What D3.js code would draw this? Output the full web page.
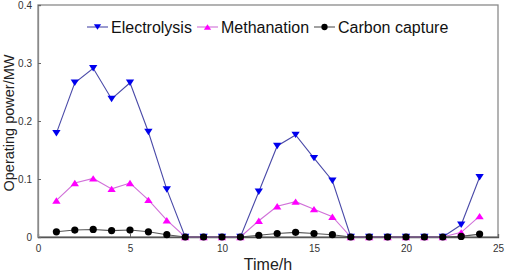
<!DOCTYPE html>
<html>
<head>
<meta charset="utf-8">
<script src="https://cdn.jsdelivr.net/npm/d3@7"></script>
<style>
  body { margin: 0; background: #fff; }
  text { font-family: "Liberation Sans", Arial, sans-serif; }
</style>
</head>
<body>
<svg width="505" height="273"></svg>
<script>
const hours = d3.range(1, 25)
const electrolysis = [0.179, 0.266, 0.291, 0.238, 0.266, 0.181, 0.082, 0, 0, 0, 0, 0.078,
    0.157, 0.176, 0.136, 0.097, 0, 0, 0, 0, 0, 0, 0.021, 0.103]
const methanation = [0.063, 0.093, 0.101, 0.083, 0.093, 0.064, 0.029, 0, 0, 0, 0, 0.028,
    0.053, 0.061, 0.048, 0.035, 0, 0, 0, 0, 0, 0, 0.008, 0.036]
const carbonCapture = [0.009, 0.012, 0.013, 0.011, 0.012, 0.009, 0.004, 0, 0, 0, 0, 0.003,
    0.006, 0.008, 0.006, 0.004, 0, 0, 0, 0, 0, 0, 0.001, 0.005]
const xTicks = [0, 5, 10, 15, 20, 25]
const yTicks = [0, 0.1, 0.2, 0.3, 0.4]

const series = [
    {name: "Electrolysis", values: electrolysis, line: "#4a4aa8", fill: "#0000ee", symbol: "down"},
    {name: "Methanation", values: methanation, line: "#d070d8", fill: "#ff00ff", symbol: "up"},
    {name: "Carbon capture", values: carbonCapture, line: "#555555", fill: "#000000", symbol: "circle"}
]

const margin = {left: 38, right: 7, top: 5, bottom: 36}
const width = 505 - margin.left - margin.right
const height = 273 - margin.top - margin.bottom

const svg = d3.select("svg")
const g = svg.append("g").attr("transform", `translate(${margin.left}, ${margin.top})`)

const x = d3.scaleLinear().domain([0, 25]).range([0, width])
const y = d3.scaleLinear().domain([0, 0.4]).range([height, 0])

// frame
g.append("rect")
    .attr("width", width).attr("height", height)
    .style("fill", "none").style("stroke", "#8a8a8a").style("stroke-width", 1.3)

const xAxis = g.append("g")
    .attr("transform", `translate(0, ${height})`)
    .call(d3.axisBottom(x).tickValues(xTicks).tickSize(-3).tickPadding(8).tickFormat(d3.format("d")))
const yAxis = g.append("g")
    .call(d3.axisLeft(y).tickValues(yTicks).tickSize(-3).tickPadding(6).tickFormat(d => d === 0 ? "0" : d3.format(".1f")(d)))

xAxis.select(".domain").style("stroke", "#555").style("stroke-width", 1.3)
yAxis.select(".domain").style("stroke", "#8a8a8a").style("stroke-width", 1.3)
svg.selectAll(".tick line").style("stroke", "#666")
svg.selectAll(".tick text").style("font-size", "10px").style("fill", "#333")

svg.append("text")
    .attr("transform", `translate(13.5, ${margin.top + height / 2 + 2}) rotate(-90)`)
    .style("text-anchor", "middle")
    .style("font-size", "14.5px")
    .style("fill", "#222")
    .text("Operating power/MW")

svg.append("text")
    .attr("x", margin.left + width / 2)
    .attr("y", 270)
    .style("text-anchor", "middle")
    .style("font-size", "16px")
    .style("fill", "#222")
    .text("Time/h")

const line = d3.line().x(d => x(d[0])).y(d => y(d[1]))

function drawSymbol(sel, s, size) {
    if (s.symbol === "circle") {
        sel.append("circle").attr("r", size * 0.45).style("fill", s.fill)
    } else {
        const h = size * 0.8, w = size * 0.52
        const p = s.symbol === "down"
            ? `M${-w},${-h / 2}L${w},${-h / 2}L0,${h / 2}Z`
            : `M${-w},${h / 2}L${w},${h / 2}L0,${-h / 2}Z`
        sel.append("path").attr("d", p).style("fill", s.fill)
    }
}

series.forEach(s => {
    const pts = hours.map((h, i) => [h, s.values[i]])
    g.append("path")
        .datum(pts)
        .attr("d", line)
        .style("fill", "none")
        .style("stroke", s.line)
        .style("stroke-width", 1.1)
    g.selectAll(null)
        .data(pts)
        .enter()
        .append("g")
        .attr("transform", d => `translate(${x(d[0])}, ${y(d[1])})`)
        .each(function() { drawSymbol(d3.select(this), s, 8) })
})

// legend
const legendX = [87, 197, 314]
const legend = svg.append("g").attr("transform", "translate(0, 27)")
series.forEach((s, i) => {
    const lg = legend.append("g").attr("transform", `translate(${legendX[i]}, 0)`)
    lg.append("line").attr("x1", 0).attr("x2", 21)
        .style("stroke", s.line).style("stroke-width", 1.1)
    const m = lg.append("g").attr("transform", "translate(10.5, 0)")
    drawSymbol(m, s, 7)
    lg.append("text")
        .attr("x", 24).attr("y", 6)
        .style("font-size", "16px")
        .style("fill", "#111")
        .text(s.name)
})
</script>
</body>
</html>
